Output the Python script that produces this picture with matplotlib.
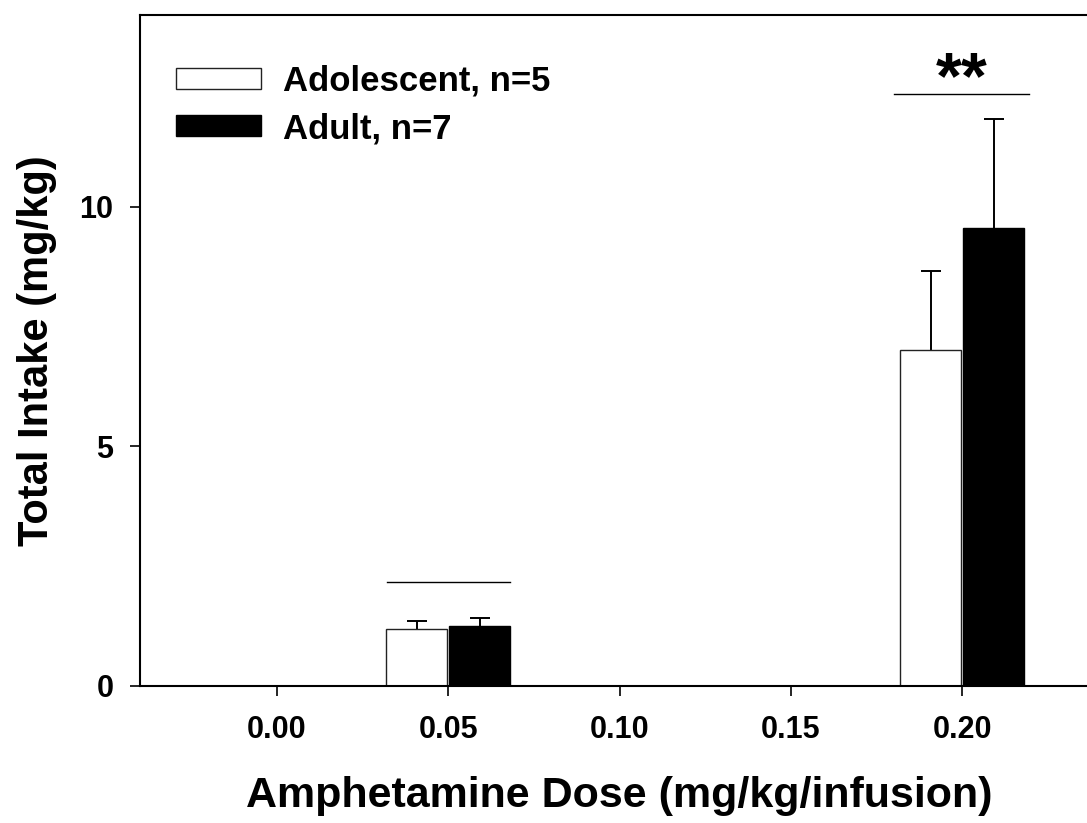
import numpy as np
import matplotlib
matplotlib.use('Agg')
import matplotlib.pyplot as plt

plt.rcParams['font.family'] = ['Liberation Sans', 'DejaVu Sans']
plt.rcParams['font.weight'] = 'bold'

# Datos
doses = np.array([0.05, 0.20])
adolescent_mean = np.array([1.19, 7.01])
adolescent_sem = np.array([0.17, 1.65])
adult_mean = np.array([1.26, 9.56])
adult_sem = np.array([0.16, 2.27])
tick_doses = [0.00, 0.05, 0.10, 0.15, 0.20]
y_ticks = [0, 5, 10]
group_labels = ['Adolescent, n=5', 'Adult, n=7']

# líneas de comparación (x inicio, x fin, altura) y marca de significación
sig_lines = [(0.032, 0.068, 2.16), (0.180, 0.2195, 12.35)]
sig_marks = [(0.20, '**')]

width = 0.0178
offset = 0.0092

fig = plt.figure(figsize=(10.87, 8.23), dpi=100)
ax = fig.add_axes([0.1288, 0.1665, 0.8823, 0.8153])

x_ado = doses - offset
x_adu = doses + offset
ax.bar(x_ado, adolescent_mean, width=width, color='white',
       edgecolor='#222222', linewidth=1.0, label=group_labels[0], zorder=2)
ax.bar(x_adu, adult_mean, width=width, color='black',
       edgecolor='black', linewidth=1.0, label=group_labels[1], zorder=2)

# barras de error solo hacia arriba
for xs, m, e in [(x_ado, adolescent_mean, adolescent_sem), (x_adu, adult_mean, adult_sem)]:
    ax.vlines(xs, m, m + e, color='black', linewidth=1.4, zorder=1)
    ax.plot(xs, m + e, linestyle='none', marker='_', markersize=15,
            markeredgewidth=1.4, color='black', zorder=1)

for x0, x1, y in sig_lines:
    ax.plot([x0, x1], [y, y], color='black', linewidth=1.0)
for x, txt in sig_marks:
    ax.text(x, 12.27, txt, ha='center', va='baseline', fontsize=48, fontweight='bold')

ax.set_xlim(-0.04, 0.24)
ax.set_ylim(0, 14)
ax.set_xticks(tick_doses)
ax.set_xticklabels([f'{d:.2f}' for d in tick_doses])
ax.set_yticks(y_ticks)
ax.tick_params(axis='both', direction='out', length=7.2, width=1.2, labelsize=22, pad=14)
ax.tick_params(axis='y', pad=12)
for s in ax.spines.values():
    s.set_linewidth(1.5)

ax.set_xlabel('Amphetamine Dose (mg/kg/infusion)', fontsize=31, fontweight='bold', labelpad=22)
ax.set_ylabel('Total Intake (mg/kg)', fontsize=30, fontweight='bold', labelpad=16)

ax.legend(loc='upper left', bbox_to_anchor=(0.0375, 0.926), frameon=False,
          handlelength=2.45, handleheight=0.55, handletextpad=0.63, labelspacing=0.42,
          borderpad=0, borderaxespad=0, prop={'weight': 'bold', 'size': 25})

fig.savefig('out.png', dpi=100)
